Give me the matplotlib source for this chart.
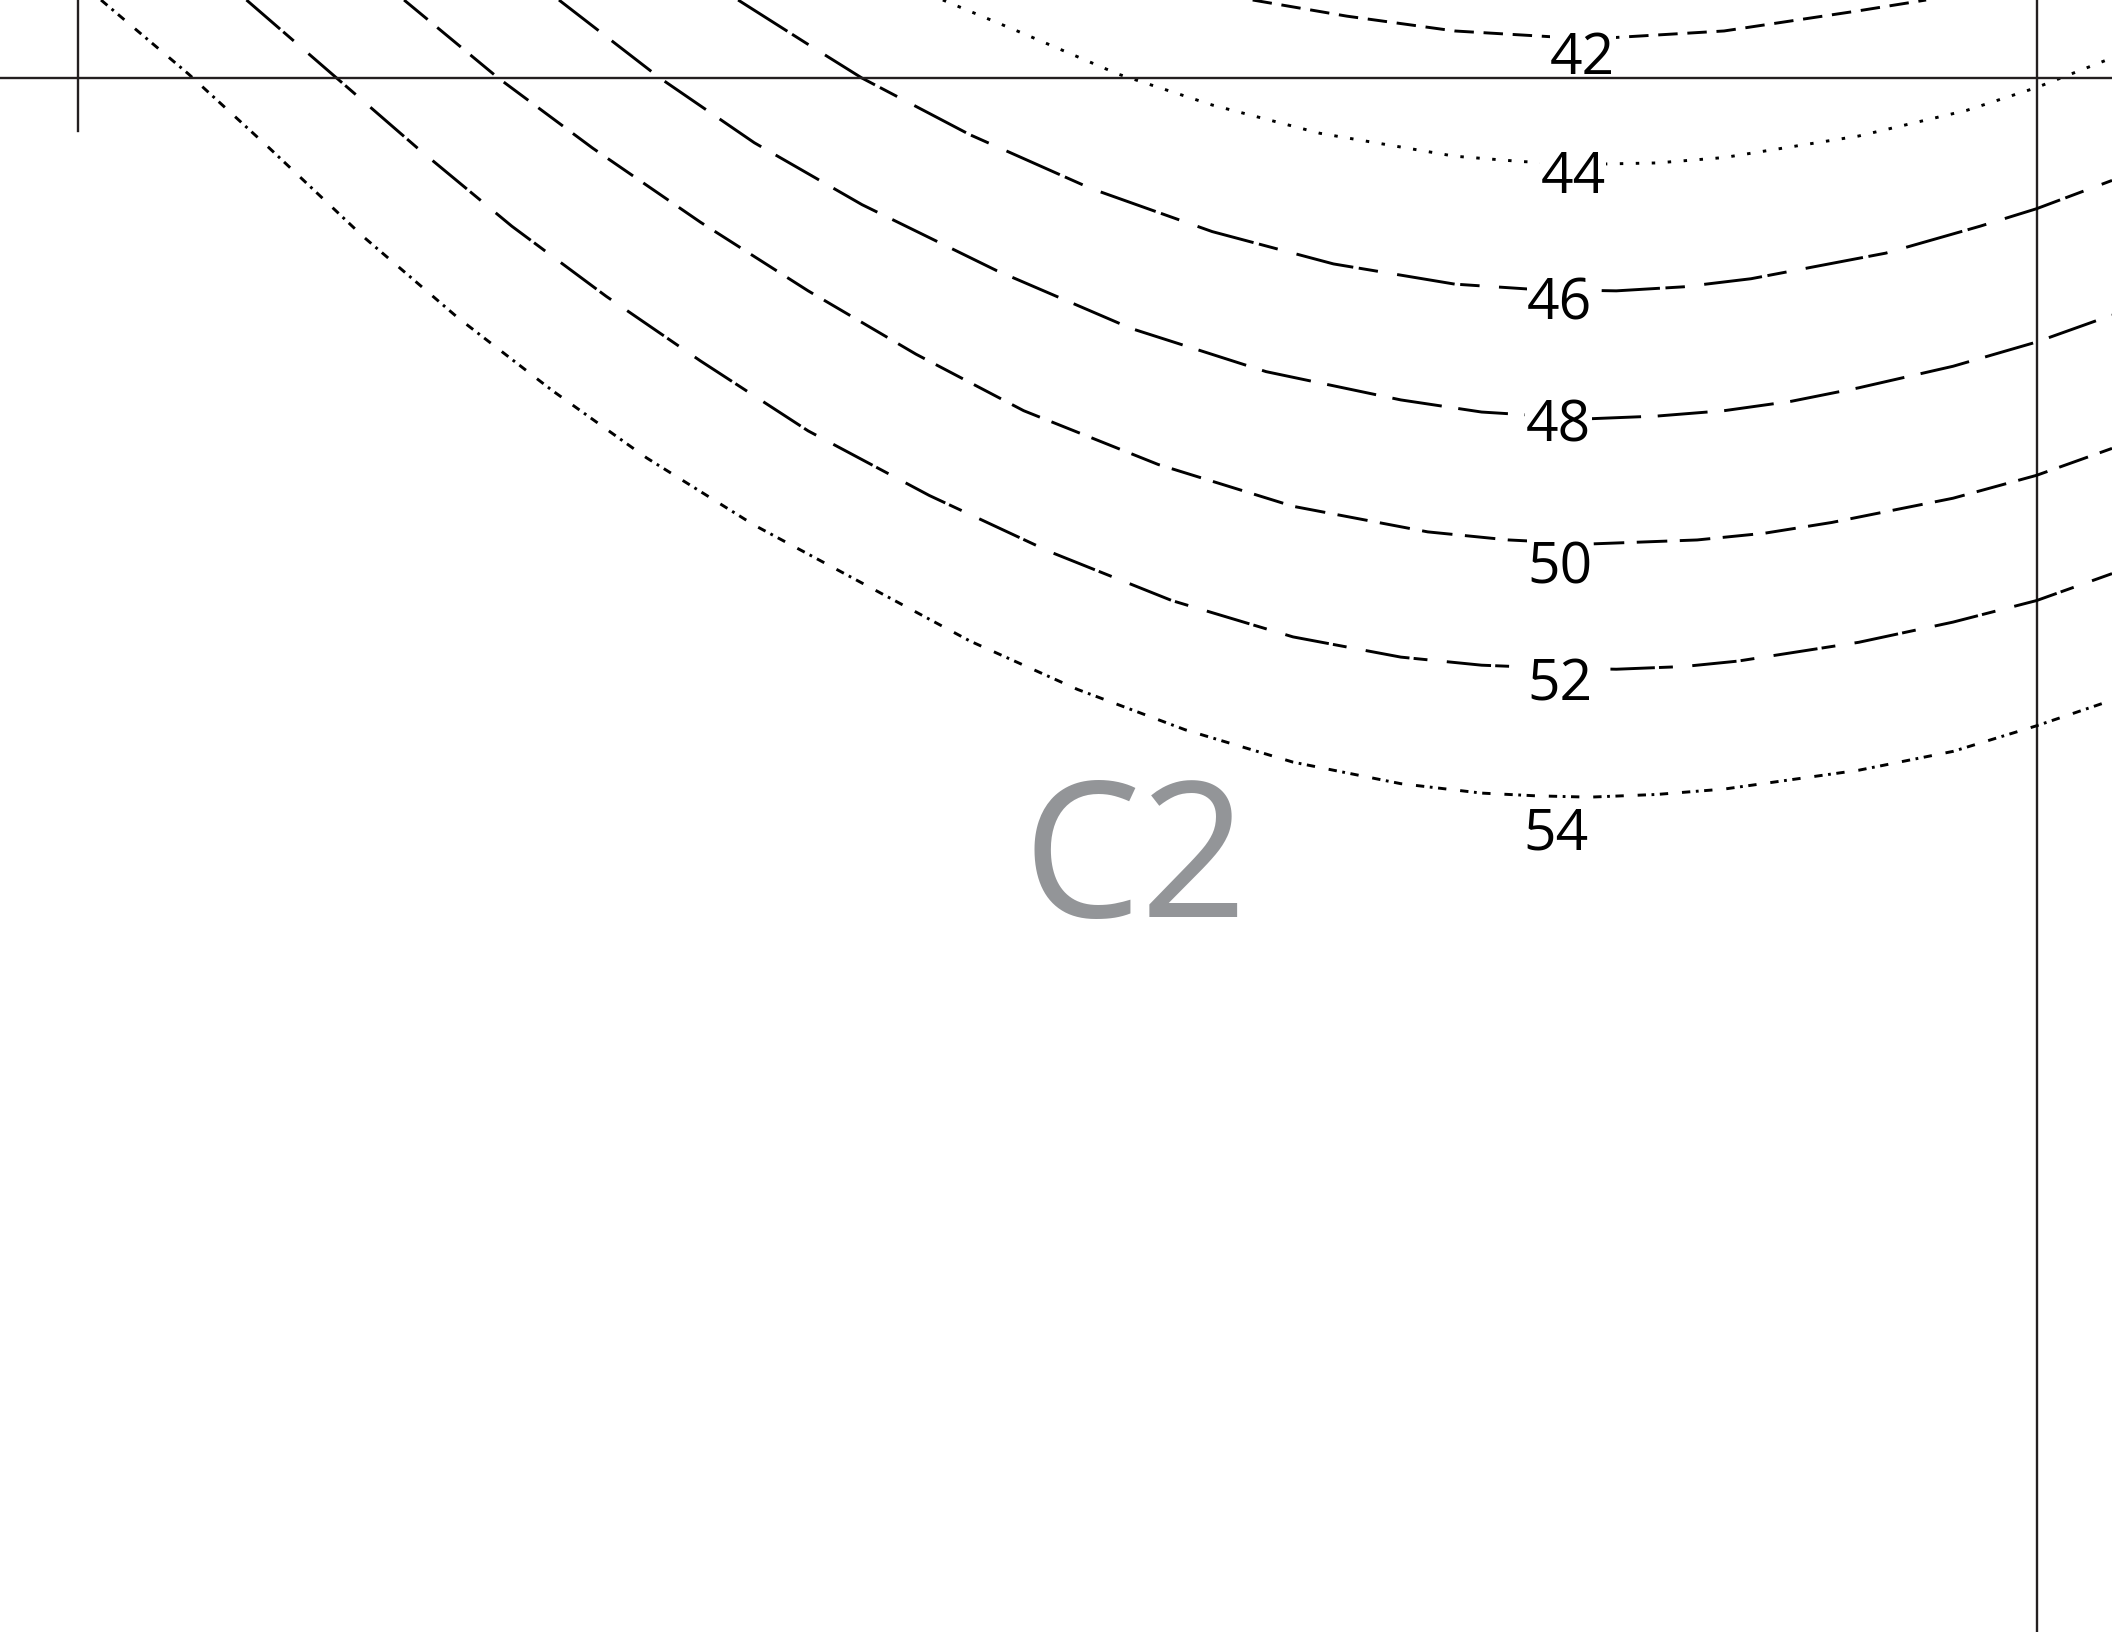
import matplotlib.pyplot as plt

plt.rcParams['lines.scale_dashes'] = False

# size lines of the pattern piece, traced in page units (x right, y down)
sizes = ['42', '44', '46', '48', '50', '52', '54']

x42 = [930, 1000, 1080, 1180, 1280, 1380, 1430]
y42 = [0, 12, 23, 29, 23, 8, 0]

x44 = [700, 760, 830, 900, 980, 1080, 1130, 1180, 1230, 1280, 1380, 1460, 1512, 1568]
y44 = [0, 25, 55, 78, 99, 116, 120, 122, 121, 117, 101, 82, 65, 43]

x46 = [548, 600, 640, 720, 810, 900, 990, 1080, 1140, 1200, 1250, 1300, 1400, 1470, 1512, 1568]
y46 = [0, 33, 58, 100, 140, 172, 196, 211, 215, 216, 213, 207, 188, 168, 155, 134]

x48 = [415, 490, 560, 640, 740, 840, 940, 1040, 1100, 1180, 1230, 1280, 1330, 1380, 1450, 1512, 1568]
y48 = [0, 58, 106, 152, 201, 244, 276, 297, 306, 311, 309, 305, 298, 288, 272, 254, 234]

x50 = [300, 370, 440, 520, 600, 680, 760, 860, 960, 1060, 1120, 1180, 1260, 1310, 1360, 1450, 1512, 1568]
y50 = [0, 58, 110, 165, 216, 263, 305, 345, 376, 395, 401, 404, 401, 396, 388, 370, 353, 333]

x52 = [183, 250, 310, 380, 450, 520, 600, 690, 780, 870, 960, 1040, 1100, 1150, 1200, 1250, 1290, 1380, 1450, 1512, 1568]
y52 = [0, 58, 110, 168, 220, 268, 320, 368, 410, 446, 473, 488, 494, 496, 497, 495, 491, 477, 462, 446, 426]

x54 = [75, 140, 200, 270, 340, 410, 480, 560, 640, 720, 800, 880, 960, 1040, 1100, 1140, 1180, 1230, 1280, 1380, 1450, 1512, 1568]
y54 = [0, 55, 110, 176, 236, 290, 340, 390, 433, 476, 512, 542, 566, 582, 589, 591, 592, 590, 586, 572, 558, 539, 520]

curves_x = [x42, x44, x46, x48, x50, x52, x54]
curves_y = [y42, y44, y46, y48, y50, y52, y54]

dash_styles = [
    (0, (14, 7)),
    (0, (2.5, 9)),
    (0, (42, 4, 14, 14)),
    (0, (36, 12)),
    (0, (22, 9)),
    (0, (32, 3, 10, 14)),
    (0, (6, 4, 2, 4, 6, 10)),
]

label_x = [1175, 1168, 1158, 1157, 1158, 1158, 1155]
label_y = [55, 143, 237, 328, 433, 520, 631]

# guide lines of the page
fold_y = 58
mark_x = 58
mark_len = 97
edge_x = 1512

piece_name = 'C2'
piece_x = 843
piece_y = 681

fig = plt.figure(figsize=(21.12, 16.32), dpi=100)
ax = fig.add_axes([0, 0, 1, 1])
ax.set_xlim(0, 1568)
ax.set_ylim(1212, 0)
ax.axis('off')

ink = '#231f20'
ax.axhline(fold_y, color=ink, lw=1.7, zorder=5)
ax.plot([mark_x, mark_x], [0, mark_len], color=ink, lw=1.7)
ax.axvline(edge_x, color=ink, lw=1.7)

for cx, cy, ls in zip(curves_x, curves_y, dash_styles):
    ax.plot(cx, cy, color='black', lw=2.1, linestyle=ls,
            solid_joinstyle='round', dash_joinstyle='round')

for s, lx, ly in zip(sizes, label_x, label_y):
    ax.text(lx, ly, s, ha='center', va='baseline', fontsize=41,
            family=['Open Sans', 'DejaVu Sans'], color='black', zorder=4,
            bbox=dict(facecolor='white', edgecolor='none', pad=0.5))

ax.text(piece_x, piece_y, piece_name, ha='center', va='baseline', fontsize=135,
        family=['Open Sans', 'DejaVu Sans'], color='#939598')

fig.savefig('out.png', dpi=100, facecolor='white')
